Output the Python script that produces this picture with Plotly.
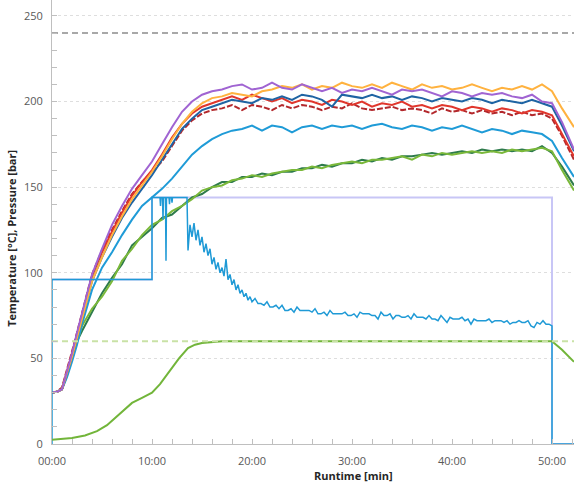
import numpy as np
import plotly.graph_objects as go

# ---------------- data ----------------
T_TEMP = [0, 0.5, 1, 1.5, 2, 2.5, 3] + list(range(4, 51)) + [51, 52.2]

PURPLE = [30, 30.5, 32, 42, 53, 65, 76,
          99, 114, 128, 139, 149, 157, 165, 175, 185, 194,
          200, 204, 206, 207, 209, 210, 207, 208, 211, 208,
          207, 210, 208, 206, 208, 205, 207, 206, 208, 206,
          204, 207, 206, 207, 205, 203, 206, 205, 203, 205,
          204, 205, 203, 202, 204, 200, 199,
          188, 172]
ORANGE = [30, 30.5, 32, 41, 51, 62, 73,
          95, 109, 122, 133, 143, 151, 159, 168, 178, 187,
          194, 199, 202, 203, 205, 204, 203, 206, 207, 209,
          208, 210, 207, 209, 208, 211, 209, 208, 210, 208,
          211, 209, 207, 210, 208, 209, 207, 208, 210, 208,
          206, 208, 207, 209, 207, 210, 206,
          196, 185]
DARKBLUE = [30, 30.5, 32, 41, 51, 62, 73,
            95, 109, 121, 132, 141, 149, 157, 166, 175, 184,
            190, 195, 197, 199, 201, 200, 199, 202, 201, 203,
            201, 204, 203, 201, 197, 204, 203, 202, 204, 202,
            203, 201, 203, 202, 200, 202, 201, 200, 202, 201,
            199, 201, 200, 199, 201, 199, 197,
            186, 171]
RED = [30, 30.5, 32, 42, 53, 64, 75,
       98, 112, 124, 135, 145, 153, 160, 169, 179, 187,
       193, 197, 199, 201, 203, 201, 204, 202, 200, 202,
       199, 201, 200, 198, 201, 200, 198, 200, 197, 199,
       198, 200, 197, 198, 196, 198, 197, 195, 197, 196,
       194, 196, 195, 193, 195, 194, 192,
       181, 168]
DARKRED = [30, 30.5, 33, 43, 54, 65, 76,
           99, 113, 125, 136, 146, 153, 159, 165, 174, 183,
           189, 193, 195, 196, 198, 195, 198, 197, 195, 198,
           196, 198, 197, 195, 197, 196, 199, 196, 195, 196,
           197, 195, 196, 195, 193, 196, 194, 195, 193, 195,
           193, 194, 192, 194, 192, 193, 190,
           180, 166]
MIDBLUE = [30, 30.5, 32, 39, 48, 58, 70,
           90, 103, 112, 122, 131, 139, 144, 149, 155, 162,
           169, 174, 178, 181, 183, 184, 186, 183, 186, 185,
           182, 185, 186, 184, 186, 185, 186, 184, 186, 187,
           185, 184, 186, 185, 183, 185, 184, 186, 184, 182,
           184, 183, 181, 183, 182, 181, 177,
           167, 156]
LIGHTGREEN = [30, 30.5, 32, 40, 50, 60, 69,
              79, 86, 95, 107, 114, 122, 128, 131, 136, 139,
              143, 148, 150, 151, 154, 155, 157, 156, 158, 159,
              160, 160, 162, 161, 163, 164, 165, 164, 166, 166,
              167, 168, 166, 169, 168, 170, 169, 170, 171, 170,
              171, 170, 172, 171, 172, 173, 171,
              160, 148]
DARKGREEN = [30, 30.5, 32, 41, 51, 60, 66,
             77, 88, 97, 105, 116, 121, 126, 132, 134, 139,
             144, 146, 150, 153, 153, 156, 156, 158, 157, 159,
             159, 161, 161, 163, 162, 164, 164, 166, 165, 167,
             166, 168, 168, 169, 170, 169, 170, 171, 170, 172,
             171, 172, 171, 172, 171, 174, 170,
             162, 151]

T_JACKET = [0, 1, 2, 3.3, 4.5, 5.5, 6.3, 7, 8, 9, 10, 10.8, 11.8, 12.7,
            13.6, 14.3, 15, 16, 17, 18, 50, 51, 52.2]
JACKET = [2.5, 2.8, 3.5, 5, 7.5, 11, 15, 19, 24, 27, 30, 35, 43, 50,
          56, 58, 59, 59.5, 60, 60, 60, 55, 48]

T_SETP = [0, 10, 10, 50, 50, 52.2]
SETPOINT_P = [96, 96, 144, 144, 0, 0]

T_P_STEP = [0, 0, 10, 10, 10.8, 10.85, 10.9, 11.05, 11.1, 11.15, 11.35, 11.4,
            11.45, 11.7, 11.75, 11.8, 11.95, 12.0, 12.05, 13.5]
P_STEP = [0, 96, 96, 144, 144, 139, 144, 144, 131, 144, 144, 107,
          144, 144, 140, 144, 144, 141, 144, 144]
T_P_DECAY1 = list(np.round(np.arange(13.6, 19.81, 0.2), 2))
P_DECAY1 = [113, 128, 121, 129, 119, 125, 116, 121, 112, 117,
            110, 114, 105, 109, 102, 106, 100, 103, 98, 108,
            96, 99, 93, 96, 90, 93, 88, 90, 86, 88,
            84, 86]
T_P_DECAY2 = list(np.round(np.arange(20.0, 49.71, 0.3), 2))
P_DECAY2 = [83, 85, 82, 82, 81, 83, 80, 80, 81, 79,
            81, 78, 78, 79, 77, 80, 78, 78, 78, 78,
            77, 79, 76, 76, 77, 75, 78, 76, 76, 76,
            76, 77, 75, 75, 76, 74, 77, 76, 76, 76,
            75, 75, 73, 77, 75, 75, 76, 73, 75, 75,
            74, 74, 75, 73, 76, 74, 74, 74, 73, 75,
            73, 73, 72, 75, 73, 71, 74, 73, 73, 73,
            74, 72, 73, 70, 73, 72, 72, 72, 72, 73,
            71, 72, 72, 72, 71, 72, 70, 71, 71, 72,
            71, 71, 72, 69, 68, 71, 70, 72, 70, 70]
T_P_END = [50.0, 50.0, 52.2]
P_END = [69, 0, 0]

LIMIT_T = 240
LIMIT_J = 60

X_TICKS = [0, 10, 20, 30, 40, 50]
X_LABELS = ["00:00", "10:00", "20:00", "30:00", "40:00", "50:00"]
X_MAX = 52.2
X_TITLE = "Runtime [min]"
Y_TITLE = "Temperature [°C], Pressure [bar]"

# ---------------- figure ----------------
fig = go.Figure()

fig.add_trace(go.Scatter(x=[0, X_MAX], y=[LIMIT_T, LIMIT_T], mode="lines",
                         line=dict(color="#8c8c8c", width=1.5, dash="6px,4px")))
fig.add_trace(go.Scatter(x=T_SETP, y=SETPOINT_P, mode="lines",
                         line=dict(color="#c8c6f6", width=2)))

series = [
    (DARKGREEN, "#2e7b4c", None),
    (LIGHTGREEN, "#7ab83a", None),
    (MIDBLUE, "#1f9bd7", None),
    (DARKRED, "#b3282c", "6px,2px"),
    (RED, "#e0362c", None),
    (DARKBLUE, "#1f64a3", None),
    (ORANGE, "#ffb23f", None),
    (PURPLE, "#a064d2", None),
]
for vals, col, dash in series:
    fig.add_trace(go.Scatter(x=T_TEMP, y=vals, mode="lines",
                             line=dict(color=col, width=2, dash=dash)))

t_p = T_P_STEP + T_P_DECAY1 + T_P_DECAY2 + T_P_END
p_v = P_STEP + P_DECAY1 + P_DECAY2 + P_END
fig.add_trace(go.Scatter(x=t_p, y=p_v, mode="lines",
                         line=dict(color="#1f9ad6", width=1.5)))

fig.add_trace(go.Scatter(x=T_JACKET, y=JACKET, mode="lines",
                         line=dict(color="#72b53a", width=2)))
fig.add_trace(go.Scatter(x=[0, X_MAX], y=[LIMIT_J, LIMIT_J], mode="lines",
                         line=dict(color="#c9e2a6", width=2, dash="6px,4px")))

fig.update_layout(
    width=574, height=484,
    margin=dict(l=52, r=0, t=0, b=40),
    paper_bgcolor="white", plot_bgcolor="white",
    showlegend=False,
    font=dict(family="Open Sans", size=11, color="#595959"),
    annotations=[
        dict(text="<b>" + X_TITLE + "</b>", xref="paper", yref="paper",
             x=0.577, y=-0.071, xanchor="center", yanchor="middle", showarrow=False,
             font=dict(size=11, color="#262626")),
        dict(text="<b>" + Y_TITLE + "</b>", xref="paper", yref="paper",
             x=-0.077, y=0.464, xanchor="center", yanchor="middle", showarrow=False,
             textangle=-90, font=dict(size=11, color="#262626")),
    ],
)
fig.update_xaxes(
    range=[0, X_MAX], tickvals=X_TICKS, ticktext=X_LABELS, automargin=False,
    showgrid=False, zeroline=False,
    showline=True, linecolor="#bfbfbf", linewidth=1,
    ticks="inside", ticklen=5, tickcolor="#bfbfbf",
    minor=dict(dtick=2, ticks="inside", ticklen=5, tickcolor="#bfbfbf", showgrid=False),
    ticklabelstandoff=7,
)
fig.update_yaxes(
    range=[0, 259.3], tickvals=[0, 50, 100, 150, 200, 250], automargin=False,
    showgrid=True, gridcolor="#dedede", griddash="dot", gridwidth=1,
    zeroline=False,
    showline=True, linecolor="#bfbfbf", linewidth=1,
    ticks="inside", ticklen=5, tickcolor="#bfbfbf",
    minor=dict(dtick=10, ticks="inside", ticklen=5, tickcolor="#bfbfbf", showgrid=False),
    ticklabelstandoff=6,
)

fig.write_html("out.html", config={"displayModeBar": False},
               post_script="document.body.style.margin='0';document.body.style.overflow='hidden';")
